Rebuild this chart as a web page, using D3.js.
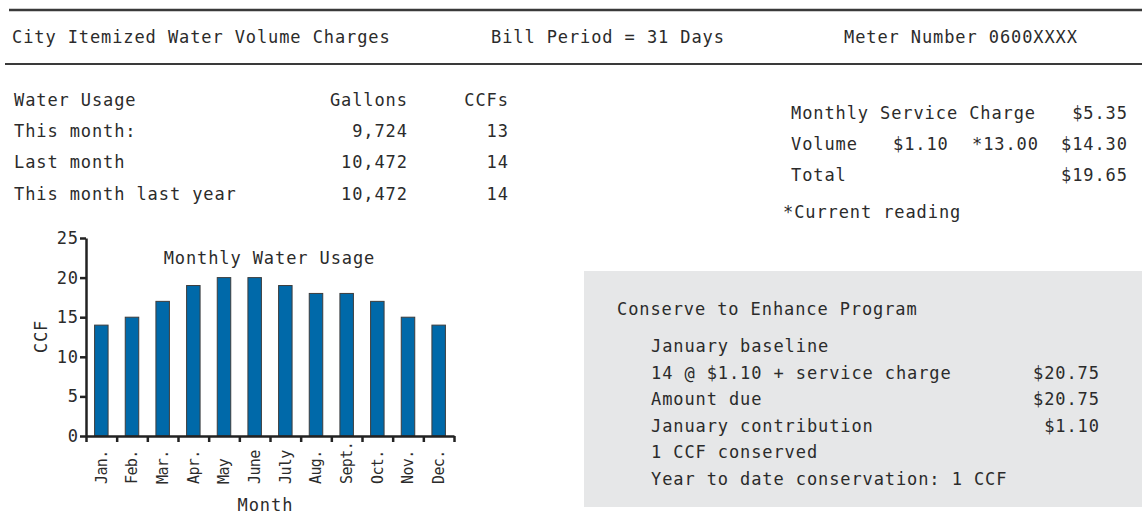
<!DOCTYPE html>
<meta charset="UTF-8">
<style>
  body { margin: 0; background: #fff; }
  text { font-family: 'DejaVu Sans Mono', monospace; fill: #2b2b2b; }
</style>
<body>
<div class="chart"></div>
<script src="https://cdn.jsdelivr.net/npm/d3@7/dist/d3.min.js"></script>
<script>
var headerItems = ["City Itemized Water Volume Charges", "Bill Period = 31 Days", "Meter Number 0600XXXX"];
var usageRows = ["This month:", "Last month", "This month last year"];
var usageGallons = [9724, 10472, 10472];
var usageCCF = [13, 14, 14];
var chargeLabels = ["Monthly Service Charge", "Volume", "Total"];
var chargeRates = ["", "$1.10", ""];
var chargeQty = ["", "*13.00", ""];
var chargeAmounts = ["$5.35", "$14.30", "$19.65"];
var months = ["Jan.", "Feb.", "Mar.", "Apr.", "May", "June", "July", "Aug.", "Sept.", "Oct.", "Nov.", "Dec."];
var ccf = [14, 15, 17, 19, 20, 20, 19, 18, 18, 17, 15, 14];
var yTicks = [0, 5, 10, 15, 20, 25];
var programLines = ["January baseline", "14 @ $1.10 + service charge", "Amount due",
                    "January contribution", "1 CCF conserved", "Year to date conservation: 1 CCF"];
var programAmounts = ["", "$20.75", "$20.75", "$1.10", "", ""];

var width = 1142, height = 515;
var FS = 17, LS = 0.9;   // body font size / letter spacing

var svg = d3.select(".chart").append("svg")
    .attr("width", width)
    .attr("height", height);

// text helper; end-anchored text gets nudged for the trailing letter-spacing
function txt(parent, x, y, s, anchor, size, ls) {
  size = size || FS;
  ls = (ls === undefined) ? LS : ls;
  anchor = anchor || "start";
  var dx = anchor === "end" ? ls : (anchor === "middle" ? ls / 2 : 0);
  return parent.append("text")
    .attr("x", x + dx)
    .attr("y", y)
    .attr("text-anchor", anchor)
    .style("font-size", size + "px")
    .style("letter-spacing", ls + "px")
    .text(s);
}

// header rules + header text
svg.append("line").attr("x1", 9).attr("x2", width).attr("y1", 10).attr("y2", 10)
  .attr("stroke", "#3a3a3a").attr("stroke-width", 2.5);
svg.append("line").attr("x1", 5).attr("x2", width).attr("y1", 64).attr("y2", 64)
  .attr("stroke", "#3a3a3a").attr("stroke-width", 2);

var headerX = [12, 491, 844];
headerItems.forEach(function (s, i) { txt(svg, headerX[i], 43, s); });

// water usage table
var fmt = d3.format(",");
var rowY = [106, 137, 168, 200];
txt(svg, 14, rowY[0], "Water Usage");
txt(svg, 407, rowY[0], "Gallons", "end");
txt(svg, 508, rowY[0], "CCFs", "end");
usageRows.forEach(function (s, i) {
  txt(svg, 14, rowY[i + 1], s);
  txt(svg, 407, rowY[i + 1], fmt(usageGallons[i]), "end");
  txt(svg, 508, rowY[i + 1], usageCCF[i], "end");
});

// charges table
var chY = [119, 150, 181];
chargeLabels.forEach(function (s, i) {
  txt(svg, 791, chY[i], s);
  if (chargeRates[i]) txt(svg, 893, chY[i], chargeRates[i]);
  if (chargeQty[i]) txt(svg, 972, chY[i], chargeQty[i]);
  txt(svg, 1127, chY[i], chargeAmounts[i], "end");
});
txt(svg, 783, 218, "*Current reading");

// ---- bar chart ----
var x0 = 86, x1 = 454, yTop = 238, yBase = 436;
var x = d3.scaleBand().domain(months).range([x0, x1]).paddingInner(0.56).paddingOuter(0.28);
var xEdge = d3.scaleLinear().domain([0, months.length]).range([x0, x1]);
var y = d3.scaleLinear().domain([0, 25]).range([yBase, yTop]);

var chart = svg.append("g");

chart.selectAll("rect.bar").data(ccf).enter().append("rect")
  .attr("class", "bar")
  .attr("x", function (d, i) { return x(months[i]); })
  .attr("y", function (d) { return y(d); })
  .attr("width", x.bandwidth())
  .attr("height", function (d) { return yBase - y(d); })
  .attr("fill", "#0069a9")
  .attr("stroke", "#3d3d3d")
  .attr("stroke-width", 1);

var yAxis = chart.append("g")
  .attr("transform", "translate(" + x0 + ",0)")
  .call(d3.axisLeft(y).tickValues(yTicks).tickSize(6).tickSizeOuter(0).tickPadding(1));
var xAxis = chart.append("g")
  .attr("transform", "translate(0," + yBase + ")")
  .call(d3.axisBottom(xEdge).ticks(12).tickSize(6).tickSizeOuter(0).tickFormat(""));

[yAxis, xAxis].forEach(function (a) {
  a.select(".domain").attr("stroke", "#222").attr("stroke-width", 2.5);
  a.selectAll(".tick line").attr("stroke", "#222").attr("stroke-width", 2.5);
});
yAxis.selectAll(".tick text")
  .attr("fill", "#2b2b2b")
  .style("font-family", "'DejaVu Sans Mono', monospace")
  .style("font-size", FS + "px")
  .style("letter-spacing", LS + "px");

// rotated month labels
chart.selectAll("text.month").data(months).enter().append("text")
  .attr("class", "month")
  .attr("transform", function (d) {
    return "translate(" + (x(d) + x.bandwidth() / 2) + ",484) rotate(-90)";
  })
  .attr("dy", "0.36em")
  .style("font-size", "15px")
  .style("letter-spacing", "-0.6px")
  .text(function (d) { return d; });

txt(chart, 269, 264, "Monthly Water Usage", "middle");
txt(chart, 265, 511, "Month", "middle");
txt(chart, 0, 0, "CCF", "middle").attr("transform", "translate(47,337) rotate(-90)");

// ---- conserve program box ----
svg.append("rect").attr("x", 584).attr("y", 271).attr("width", width - 584).attr("height", 236)
  .attr("fill", "#e6e7e8");
txt(svg, 617, 315, "Conserve to Enhance Program");
programLines.forEach(function (s, i) {
  var yy = 352 + i * 26.6;
  txt(svg, 651, yy, s);
  if (programAmounts[i]) txt(svg, 1099, yy, programAmounts[i], "end");
});
</script>
</body>
